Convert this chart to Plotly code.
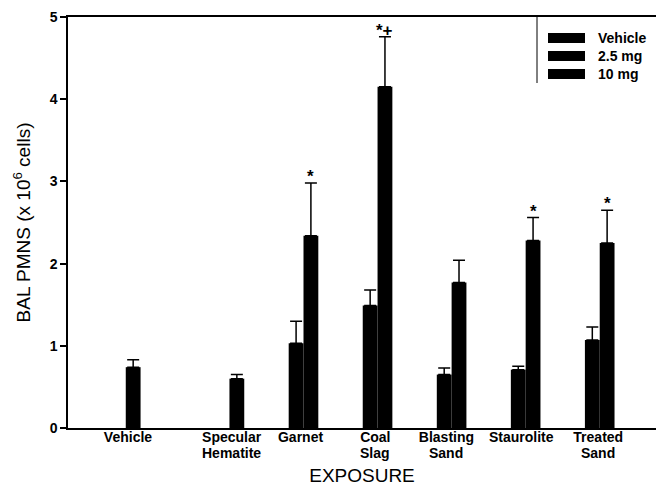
import plotly.graph_objects as go

# ---------------- data ----------------
categories = ["Vehicle", "Specular Hematite", "Garnet", "Coal Slag",
              "Blasting Sand", "Staurolite", "Treated Sand"]
series_names = ["Vehicle", "2.5 mg", "10 mg"]

vehicle = [0.74, None, None, None, None, None, None]
vehicle_err = [0.09, 0, 0, 0, 0, 0, 0]

mg25 = [None, None, 1.03, 1.49, 0.65, 0.71, 1.07]
mg25_err = [0, 0, 0.27, 0.19, 0.08, 0.04, 0.16]

mg10 = [None, 0.60, 2.34, 4.15, 1.77, 2.28, 2.25]
mg10_err = [0, 0.05, 0.64, 0.61, 0.27, 0.28, 0.40]

significance = ["", "", "*", "*+", "", "*", "*"]

y_ticks = [0, 1, 2, 3, 4, 5]

# ---------------- layout helpers ----------------
W, H = 656, 486
ML, MR, MT, MB = 68, 0, 17, 58
PW, PH = W - ML - MR, H - MT - MB

def px_x(p):
    return (p - ML) / PW

def px_y(p):
    return 1 - (p - MT) / PH

FONT = "Arial, Liberation Sans, sans-serif"
positions = list(range(1, len(categories) + 1))
label_shift = [-0.27, 0.13, 0.06, 0.07, 0.03, 0.04, 0.08]
tick_pos = [p + s for p, s in zip(positions, label_shift)]
first_lines = [c.split(" ")[0] for c in categories]
second_lines = [" ".join(c.split(" ")[1:]) for c in categories]

fig = go.Figure()
for name, vals, errs in [(series_names[0], vehicle, vehicle_err),
                         (series_names[1], mg25, mg25_err),
                         (series_names[2], mg10, mg10_err)]:
    fig.add_trace(go.Bar(
        x=positions, y=vals, name=name,
        marker=dict(color="black", line=dict(width=0)),
        error_y=dict(type="data", array=errs, arrayminus=[0] * len(errs),
                     symmetric=False, color="black", thickness=1.5, width=6),
        showlegend=False,
    ))

annotations = []
# significance markers above 10 mg error bars
slot_offset = 0.2
for p, v, e, s in zip(positions, mg10, mg10_err, significance):
    if s and v is not None:
        annotations.append(dict(
            x=p + slot_offset, y=v + e, xref="x", yref="y", text="<b>%s</b>" % s,
            showarrow=False, xanchor="center", yanchor="bottom", yshift=-5,
            font=dict(family=FONT, size=17, color="black")))

# second lines of the category labels
for tp, s in zip(tick_pos, second_lines):
    if s:
        annotations.append(dict(
            x=tp, y=px_y(453), xref="x", yref="paper", text="<b>%s</b>" % s,
            showarrow=False, xanchor="center", yanchor="middle",
            font=dict(family=FONT, size=14, color="black")))

# manual legend (left border + swatches + labels)
shapes = [dict(type="line", xref="paper", yref="paper",
               x0=px_x(537), x1=px_x(537), y0=px_y(83), y1=px_y(MT),
               line=dict(color="black", width=1))]
row_y = [38, 56, 74]
for name, yy in zip(series_names, row_y):
    shapes.append(dict(type="rect", xref="paper", yref="paper",
                       x0=px_x(548), x1=px_x(585), y0=px_y(yy + 5), y1=px_y(yy - 5),
                       line=dict(width=0), fillcolor="black"))
    annotations.append(dict(x=px_x(596), y=px_y(yy), xref="paper", yref="paper",
                            text="<b>%s</b>" % name, showarrow=False,
                            xanchor="left", yanchor="middle",
                            font=dict(family=FONT, size=14, color="black")))

fig.update_layout(
    width=W, height=H,
    margin=dict(l=ML, r=MR, t=MT, b=MB, pad=0),
    paper_bgcolor="white", plot_bgcolor="white",
    barmode="group", bargap=0.4, bargroupgap=0,
    font=dict(family=FONT, color="black"),
    shapes=shapes, annotations=annotations,
    showlegend=False,
)
fig.update_xaxes(
    range=[-0.08, 7.86], tickmode="array", tickvals=tick_pos,
    ticktext=["<b>%s</b>" % t for t in first_lines],
    ticks="", showgrid=False, zeroline=False, ticklabelstandoff=-5,
    showline=True, linecolor="black", linewidth=1.5, mirror=True,
    tickfont=dict(family=FONT, size=14, color="black"),
    title=dict(text="EXPOSURE", font=dict(family=FONT, size=19, color="black"), standoff=27),
)
fig.update_yaxes(
    range=[0, 5], tickmode="array", tickvals=y_ticks,
    ticktext=["<b>%d</b>" % t for t in y_ticks],
    ticks="outside", ticklen=6, tickwidth=1.5, tickcolor="black",
    showgrid=False, zeroline=False,
    showline=True, linecolor="black", linewidth=1.5,
    tickfont=dict(family=FONT, size=14, color="black"),
    title=dict(text="BAL PMNS (x 10<sup>6</sup> cells)",
               font=dict(family=FONT, size=19, color="black"), standoff=14),
)

fig.write_html("out.html", config={"displayModeBar": False},
               post_script="document.body.style.margin='0';document.body.style.overflow='hidden';")
